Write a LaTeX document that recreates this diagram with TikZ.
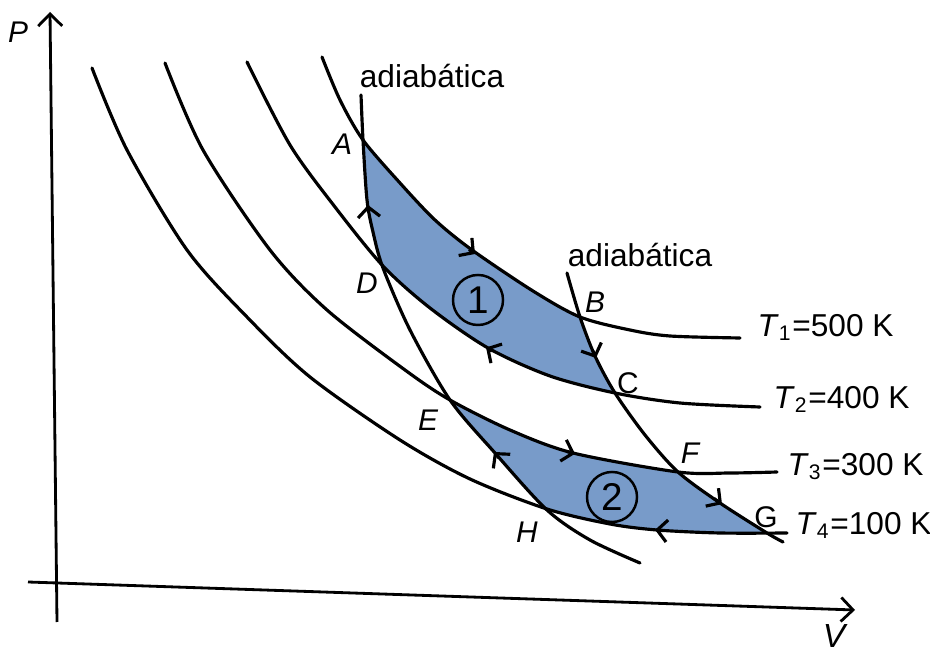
\documentclass[tikz,border=0pt]{standalone}
\usepackage{fontspec}
\setmainfont{Liberation Sans}
\usetikzlibrary{arrows.meta}
\definecolor{cycleblue}{RGB}{120,155,201}

% isotherms and adiabats, in pixel units of the sketch
\newcommand{\isoTone}{plot[smooth] coordinates {(322,57) (340,100) (363,140) (400,183) (435,220) (472,250) (533,291) (580,317) (630,330) (670,336) (740,338)}}
\newcommand{\isoTtwo}{plot[smooth] coordinates {(247,62) (290,145) (335,207) (383,266) (430,308) (488,348) (550,376) (615,393) (680,403) (760,407)}}
\newcommand{\isoTthree}{plot[smooth] coordinates {(165,63) (203,150) (270,250) (327,310) (405,370) (450,400) (510,430) (573,453) (678,472) (730,473) (777,472)}}
\newcommand{\isoTfour}{plot[smooth] coordinates {(92,68) (127,150) (187,250) (247,317) (310,377) (400,440) (470,479) (547,509) (610,524) (657,530) (720,533) (787,533)}}
\newcommand{\adiaOne}{plot[smooth] coordinates {(361,95) (363,140) (367,200) (373,232) (383,268) (410,330) (450,400) (495,453) (547,510) (590,540) (640,563)}}
\newcommand{\adiaTwo}{plot[smooth] coordinates {(567,273) (580,317) (595,356) (615,393) (645,435) (678,472) (720,503) (767,533) (783,542)}}

\begin{document}
\begin{tikzpicture}[x=0.01cm, y=-0.01cm,
  curve/.style={line width=0.9pt, line cap=round},
  axis/.style={line width=0.8pt, -{Straight Barb[length=1.2mm, width=2.4mm]}},
  flow/.style={line width=0.9pt, -{Straight Barb[length=1mm, width=2.2mm]}},
  lbl/.style={font=\fontsize{9}{10}\selectfont, inner sep=0pt},
  ptlbl/.style={font=\fontsize{8.5}{10}\selectfont\itshape, inner sep=0pt},
  num/.style={circle, draw, line width=0.7pt, minimum size=5mm, inner sep=0pt,
    font=\fontsize{11}{12}\selectfont}]
  \useasboundingbox (0,0) rectangle (930,655);

  % shaded cycles 1 and 2
  \begin{scope}
    \clip \adiaOne -- (640,700) -- (950,700) -- (950,-50) -- (361,-50) -- cycle;
    \clip \adiaTwo -- (783,700) -- (-50,700) -- (-50,-50) -- (567,-50) -- cycle;
    \begin{scope}
      \clip \isoTone -- (950,338) -- (950,700) -- (-50,700) -- (-50,57) -- cycle;
      \clip \isoTtwo -- (950,407) -- (950,-50) -- (247,-50) -- cycle;
      \fill[cycleblue] (0,0) rectangle (930,655);
    \end{scope}
    \begin{scope}
      \clip \isoTthree -- (950,472) -- (950,700) -- (-50,700) -- (-50,63) -- cycle;
      \clip \isoTfour -- (950,533) -- (950,-50) -- (92,-50) -- cycle;
      \fill[cycleblue] (0,0) rectangle (930,655);
    \end{scope}
  \end{scope}

  % axes
  \draw[axis] (57,622) -- (50,12);
  \draw[axis] (28,582) -- (855,610);
  \node[ptlbl] (P) at (18,32) {P};
  \node[lbl, font=\fontsize{9.5}{10}\selectfont\itshape] (V) at (834,636) {V};

  % isotherms
  \draw[curve] \isoTone;
  \draw[curve] \isoTtwo;
  \draw[curve] \isoTthree;
  \draw[curve] \isoTfour;

  % adiabats
  \draw[curve] \adiaOne;
  \draw[curve] \adiaTwo;
  \node[lbl] (ad1) at (432,76) {adiabática};
  \node[lbl] (ad2) at (640,255) {adiabática};

  % direction of the cycles
  \draw[flow] (469,249.5) -- (475,254);
  \draw[flow] (593,351) -- (596,358);
  \draw[flow] (492,351) -- (486,347.5);
  \draw[flow] (368.6,212) -- (368,205);
  \draw[flow] (567,451.5) -- (575,453.8);
  \draw[flow] (714,498.5) -- (722,504.2);
  \draw[flow] (663,530.6) -- (655,529.8);
  \draw[flow] (499,458) -- (494,452);

  % states
  \node[ptlbl] (A) at (342,144) {A};
  \node[ptlbl] (B) at (595,302) {B};
  \node[ptlbl, font=\fontsize{8.5}{10}\selectfont] (C) at (628,383) {C};
  \node[ptlbl] (D) at (367,283) {D};
  \node[ptlbl] (E) at (428,420) {E};
  \node[ptlbl] (F) at (690,453) {F};
  \node[ptlbl, font=\fontsize{8.5}{10}\selectfont] (G) at (766,517) {G};
  \node[ptlbl] (H) at (527,532) {H};

  \node[num] (n1) at (478,300) {1};
  \node[num] (n2) at (612,497) {2};

  % temperatures
  \node[lbl, anchor=base west] (T1) at (757,337) {\textit{T}\textsubscript{1}=500 K};
  \node[lbl, anchor=base west] (T2) at (773,409) {\textit{T}\textsubscript{2}=400 K};
  \node[lbl, anchor=base west] (T3) at (787,476) {\textit{T}\textsubscript{3}=300 K};
  \node[lbl, anchor=base west] (T4) at (795,535) {\textit{T}\textsubscript{4}=100 K};
\end{tikzpicture}
\end{document}
